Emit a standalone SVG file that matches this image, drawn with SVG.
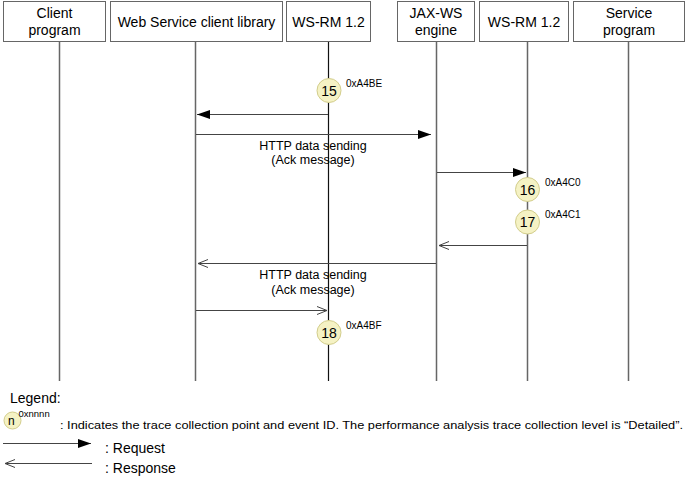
<svg xmlns="http://www.w3.org/2000/svg" width="687" height="481" viewBox="0 0 687 481">
<defs>
<style>
text{font-family:"Liberation Sans",Arial,sans-serif;fill:#000}
.box{fill:#fff;stroke:#666;stroke-width:1}
.hd{font-size:14px;text-anchor:middle}
.life{stroke:#666;stroke-width:1.5;fill:none}
.msg{stroke:#444;stroke-width:1;fill:none}
.lbl{font-size:12.5px;text-anchor:middle}
.pt{fill:#f5f2c4;stroke:#d2cd8c;stroke-width:1}
.num{font-size:14px;text-anchor:middle}
.ev{font-size:10px}
</style>
<marker id="fill" markerWidth="14" markerHeight="10" refX="13" refY="5" orient="auto" markerUnits="userSpaceOnUse">
<path d="M0,0.5 L13,5 L0,9.5 Z" fill="#000"/>
</marker>
<marker id="open" markerWidth="12" markerHeight="10" refX="11" refY="5" orient="auto" markerUnits="userSpaceOnUse">
<path d="M1,1 L11,5 L1,9" fill="none" stroke="#444" stroke-width="1"/>
</marker>
</defs>
<rect width="687" height="481" fill="#fff"/>

<g id="n-client"><rect class="box" x="3.5" y="1.5" width="102" height="40"/><text class="hd" x="54.5" y="18">Client</text><text class="hd" x="54.5" y="35">program</text></g>
<g id="n-wslib"><rect class="box" x="110.5" y="1.5" width="172" height="40"/><text class="hd" x="196.5" y="26.5">Web Service client library</text></g>
<g id="n-wsrm1"><rect class="box" x="286.5" y="1.5" width="84" height="40"/><text class="hd" x="328.5" y="26.5">WS-RM 1.2</text></g>
<g id="n-jaxws"><rect class="box" x="397.5" y="1.5" width="77" height="40"/><text class="hd" x="436" y="18">JAX-WS</text><text class="hd" x="436" y="35">engine</text></g>
<g id="n-wsrm2"><rect class="box" x="479.5" y="1.5" width="89" height="40"/><text class="hd" x="524" y="26.5">WS-RM 1.2</text></g>
<g id="n-service"><rect class="box" x="573.5" y="1.5" width="111" height="40"/><text class="hd" x="629" y="18">Service</text><text class="hd" x="629" y="35">program</text></g>

<g id="lifelines">
<line class="life" x1="59.5" y1="42" x2="59.5" y2="381"/>
<line class="life" x1="195.5" y1="42" x2="195.5" y2="381"/>
<line x1="328.5" y1="42" x2="328.5" y2="381" stroke="#111" stroke-width="1.2"/>
<line class="life" x1="436.5" y1="42" x2="436.5" y2="381"/>
<line class="life" x1="527.5" y1="42" x2="527.5" y2="381"/>
<line class="life" x1="628.5" y1="42" x2="628.5" y2="381"/>
</g>

<g id="connectors">
<line class="msg" x1="328" y1="114.5" x2="197" y2="114.5" marker-end="url(#fill)"/>
<line class="msg" x1="196" y1="134.5" x2="431" y2="134.5" marker-end="url(#fill)"/>
<text class="lbl" x="313" y="150">HTTP data sending</text>
<text class="lbl" x="313" y="164">(Ack message)</text>
<line class="msg" x1="437" y1="172.5" x2="526" y2="172.5" marker-end="url(#fill)"/>
<line class="msg" x1="527" y1="245.5" x2="439" y2="245.5" marker-end="url(#open)"/>
<line class="msg" x1="436" y1="263.5" x2="198" y2="263.5" marker-end="url(#open)"/>
<text class="lbl" x="313" y="279">HTTP data sending</text>
<text class="lbl" x="313" y="294">(Ack message)</text>
<line class="msg" x1="196" y1="310.5" x2="327" y2="310.5" marker-end="url(#open)"/>
</g>

<g id="p15"><circle class="pt" cx="329" cy="90.5" r="12"/><text class="num" x="329" y="95.5">15</text><text class="ev" x="346" y="87">0xA4BE</text></g>
<g id="p16"><circle class="pt" cx="527.5" cy="189.5" r="12"/><text class="num" x="527.5" y="194.5">16</text><text class="ev" x="545" y="186">0xA4C0</text></g>
<g id="p17"><circle class="pt" cx="527.5" cy="222" r="12"/><text class="num" x="527.5" y="227">17</text><text class="ev" x="545" y="218">0xA4C1</text></g>
<g id="p18"><circle class="pt" cx="329" cy="332.5" r="12"/><text class="num" x="329" y="337.5">18</text><text class="ev" x="346" y="329">0xA4BF</text></g>

<g id="legend">
<text x="10" y="403" font-size="14px">Legend:</text>
<circle class="pt" cx="12.5" cy="420.5" r="8.5"/>
<text x="8" y="425" font-size="12px">n</text>
<text x="18.5" y="417" font-size="9.5px">0xnnnn</text>
<text x="60" y="429" font-size="11.5px" textLength="623" lengthAdjust="spacingAndGlyphs">: Indicates the trace collection point and event ID. The performance analysis trace collection level is “Detailed”.</text>
<line class="msg" x1="3" y1="443.5" x2="91" y2="443.5" marker-end="url(#fill)"/>
<text x="105" y="453" font-size="14px">: Request</text>
<line class="msg" x1="92" y1="463.5" x2="5" y2="463.5" marker-end="url(#open)"/>
<text x="105" y="473" font-size="14px">: Response</text>
</g>
</svg>
